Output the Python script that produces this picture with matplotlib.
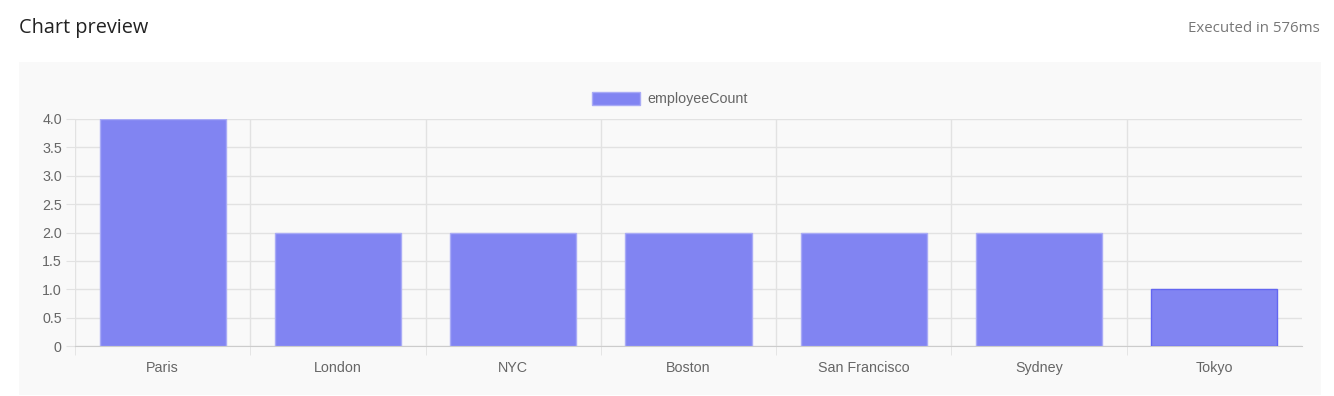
import matplotlib
matplotlib.use("Agg")
import matplotlib.pyplot as plt
from matplotlib.patches import Rectangle, Patch
import numpy as np

cities = ["Paris", "London", "NYC", "Boston", "San Francisco", "Sydney", "Tokyo"]
employee_count = [4, 2, 2, 2, 2, 2, 1]
y_ticks = [0, 0.5, 1.0, 1.5, 2.0, 2.5, 3.0, 3.5, 4.0]
y_labels = ["0", "0.5", "1.0", "1.5", "2.0", "2.5", "3.0", "3.5", "4.0"]

W, H = 1334, 396
fig = plt.figure(figsize=(W / 100, H / 100), dpi=100)
fig.patch.set_facecolor("white")

# card background
fig.patches.append(Rectangle((19 / W, 1 - 395 / H), (1321 - 19) / W, (395 - 62) / H,
                             transform=fig.transFigure, facecolor="#f9f9f9",
                             edgecolor="none", zorder=-5))

fig.text(19 / W, 1 - 28 / H, "Chart preview", fontsize=14.3, family="Open Sans",
         color="#222222", va="center", ha="left")
fig.text(1320 / W, 1 - 28 / H, "Executed in 576ms", fontsize=10.8, family="Open Sans",
         color="#777777", va="center", ha="right")

ax = fig.add_axes([75 / W, 1 - 346 / H, (1302 - 75) / W, (346 - 119) / H])
ax.set_facecolor("none")
ax.set_zorder(2)

x = np.arange(len(cities))
bars = ax.bar(x, employee_count, width=0.72, color="#8184f2",
              edgecolor="#a9abf6", linewidth=1, zorder=3)
bars[-1].set_edgecolor("#6366f1")

ax.set_xlim(-0.5, len(cities) - 0.5)
ax.set_ylim(0, 4)
ax.set_yticks(y_ticks)
ax.set_yticklabels(y_labels)
ax.set_xticks(x)
ax.set_xticklabels(cities)
ax.set_xticks(np.arange(-0.5, len(cities) - 0.5, 1), minor=True)

grid_c = "#e2e2e2"
ax.grid(axis="y", color=grid_c, linewidth=1, zorder=0)
ax.grid(axis="x", which="minor", color=grid_c, linewidth=1, zorder=0)
ax.tick_params(axis="x", which="major", length=0, pad=11, labelsize=10.3,
               labelcolor="#666666")
ax.tick_params(axis="x", which="minor", length=6.5, color=grid_c)
ax.tick_params(axis="y", length=6.5, color=grid_c, pad=3, labelsize=10.3,
               labelcolor="#666666")
for lab in ax.get_xticklabels() + ax.get_yticklabels():
    lab.set_family("Liberation Sans")

for side in ["top", "right", "left"]:
    ax.spines[side].set_visible(False)
ax.spines["bottom"].set_color("#cccccc")

handle = Patch(facecolor="#8184f2", edgecolor="#a9abf6", label="employeeCount")
leg = fig.legend(handles=[handle], loc="center", bbox_to_anchor=(670 / W, 1 - 99 / H),
                 frameon=False, handlelength=3.35, handleheight=1.05, handletextpad=0.55,
                 prop={"family": "Liberation Sans", "size": 10.3})
for t in leg.get_texts():
    t.set_color("#666666")

fig.savefig("out.png", dpi=100, facecolor="white")
